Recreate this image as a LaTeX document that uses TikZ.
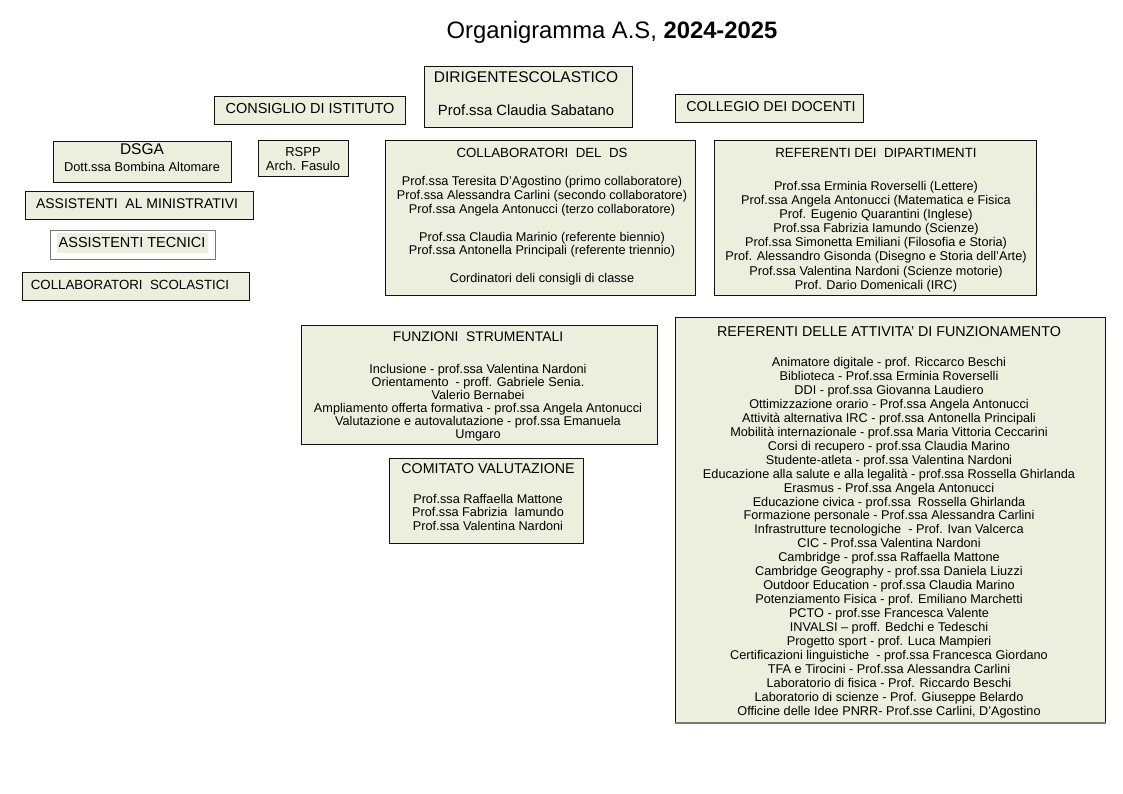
\documentclass[tikz,border=0pt]{standalone}
\usepackage{fontspec}
\setmainfont{Liberation Sans}
\usetikzlibrary{positioning}
\definecolor{orgfondo}{HTML}{ECEEDE}
\definecolor{orgbordo}{HTML}{111111}
\definecolor{orgombra}{HTML}{7A7A72}

\tikzset{
  ufficio/.style={draw=orgbordo, fill=orgfondo, line width=0.9pt, inner sep=0pt, anchor=north west},
  voce/.style={inner sep=0pt, text height=9.4pt, text depth=0pt},
  elenco/.style={font=\fontsize{12.7}{13.9}\selectfont, align=center, inner sep=0pt, anchor=north},
}

\begin{document}
\begin{tikzpicture}[x=1pt, y=-1pt]
    \fill[white] (0,0) rectangle (1123,793);
    \useasboundingbox (0,0) rectangle (1123,793);

    % Titolo
    \node[voce, font=\fontsize{23.8}{26}\selectfont, text height=17pt] (titolo) at (612,30)
        {Organigramma A.S, \textbf{2024-2025}};

    % Vertice
    \node[ufficio, minimum width=208pt, minimum height=61pt] (dirigente) at (424,66) {};
    \node[voce, font=\fontsize{15.5}{17}\selectfont] (dirigente-t) at (526,78) {DIRIGENTESCOLASTICO};
    \node[voce, font=\fontsize{14.8}{17}\selectfont] (dirigente-n) at (526,111) {Prof.ssa Claudia Sabatano};

    \node[ufficio, minimum width=191pt, minimum height=28pt] (consiglio) at (214,96) {};
    \node[voce, font=\fontsize{14.5}{16}\selectfont] (consiglio-t) at (310,109) {CONSIGLIO DI ISTITUTO};

    \node[ufficio, minimum width=188pt, minimum height=28pt] (collegio) at (675,94) {};
    \node[voce, font=\fontsize{14.3}{16}\selectfont] (collegio-t) at (771,107) {COLLEGIO DEI DOCENTI};

    % Area amministrativa
    \node[ufficio, minimum width=178pt, minimum height=41pt] (dsga) at (53,141) {};
    \node[voce, font=\fontsize{15.5}{17}\selectfont] (dsga-t) at (142,150) {DSGA};
    \node[voce, font=\fontsize{12.8}{14}\selectfont] (dsga-n) at (142,167) {Dott.ssa Bombina Altomare};

    \node[ufficio, minimum width=90pt, minimum height=36pt] (rspp) at (258,140) {};
    \node[voce, font=\fontsize{13}{14}\selectfont] (rspp-t) at (303,152) {RSPP};
    \node[voce, font=\fontsize{13}{14}\selectfont] (rspp-n) at (303,166) {Arch. Fasulo};

    \node[ufficio, minimum width=228pt, minimum height=28pt] (amministrativi) at (25,191) {};
    \node[voce, font=\fontsize{14}{16}\selectfont] (amministrativi-t) at (137,204) {ASSISTENTI\ \ AL MINISTRATIVI};

    \node[ufficio, fill=white, draw=orgombra, line width=0.6pt, minimum width=165pt, minimum height=29pt] (tecnici) at (50,230) {};
    \fill[orgfondo] (57,233) rectangle (208,253);
    \node[voce, font=\fontsize{14.5}{16}\selectfont] (tecnici-t) at (132,243) {ASSISTENTI TECNICI};

    \node[ufficio, minimum width=227pt, minimum height=28pt] (scolastici) at (22,272) {};
    \node[voce, font=\fontsize{13.3}{15}\selectfont] (scolastici-t) at (130,285) {COLLABORATORI\ \ SCOLASTICI};

    % Staff del DS
    \node[ufficio, minimum width=310pt, minimum height=155pt] (staff) at (385,140) {};
    \node[voce, font=\fontsize{13.3}{15}\selectfont] (staff-t) at (542,153) {COLLABORATORI\ \ DEL\ \ DS};
    \node[elenco, font=\fontsize{12.7}{13.8}\selectfont] (staff-e) at (542,176.5) {%
        Prof.ssa Teresita D'Agostino (primo collaboratore)\\
        Prof.ssa Alessandra Carlini (secondo collaboratore)\\
        Prof.ssa Angela Antonucci (terzo collaboratore)\\[13.8pt]
        Prof.ssa Claudia Marinio (referente biennio)\\
        Prof.ssa Antonella Principali (referente triennio)\\[13.8pt]
        Cordinatori deli consigli di classe};

    \node[ufficio, minimum width=322pt, minimum height=155pt] (dipartimenti) at (714,140) {};
    \node[voce, font=\fontsize{13.3}{15}\selectfont] (dipartimenti-t) at (876,153) {REFERENTI DEI\ \ DIPARTIMENTI};
    \node[elenco, font=\fontsize{12.7}{14.1}\selectfont] (dipartimenti-e) at (876,181) {%
        Prof.ssa Erminia Roverselli (Lettere)\\
        Prof.ssa Angela Antonucci (Matematica e Fisica\\
        Prof. Eugenio Quarantini (Inglese)\\
        Prof.ssa Fabrizia Iamundo (Scienze)\\
        Prof.ssa Simonetta Emiliani (Filosofia e Storia)\\
        Prof. Alessandro Gisonda (Disegno e Storia dell'Arte)\\
        Prof.ssa Valentina Nardoni (Scienze motorie)\\
        Prof. Dario Domenicali (IRC)};

    % Funzioni e comitato
    \node[ufficio, minimum width=356pt, minimum height=119pt] (funzioni) at (301,325) {};
    \node[voce, font=\fontsize{13.9}{15}\selectfont] (funzioni-t) at (478,337) {FUNZIONI\ \ STRUMENTALI};
    \node[elenco, font=\fontsize{12.7}{13}\selectfont] (funzioni-e) at (478,364) {%
        Inclusione - prof.ssa Valentina Nardoni\\
        Orientamento\ \ - proff. Gabriele Senia.\\
        Valerio Bernabei\\
        Ampliamento offerta formativa - prof.ssa Angela Antonucci\\
        Valutazione e autovalutazione - prof.ssa Emanuela\\
        Umgaro};

    \node[ufficio, minimum width=194pt, minimum height=85pt] (comitato) at (389,458) {};
    \node[voce, font=\fontsize{14.2}{16}\selectfont] (comitato-t) at (488,469) {COMITATO VALUTAZIONE};
    \node[elenco, font=\fontsize{12.7}{13.5}\selectfont] (comitato-e) at (488,494) {%
        Prof.ssa Raffaella Mattone\\
        Prof.ssa Fabrizia\ \ Iamundo\\
        Prof.ssa Valentina Nardoni};

    % Referenti attivita
    \node[ufficio, minimum width=430pt, minimum height=405pt] (attivita) at (675,317) {};
    \draw[orgombra, line width=2pt] (attivita.south west) -- (attivita.south east);
    \node[voce, font=\fontsize{14.3}{16}\selectfont] (attivita-t) at (889,332) {REFERENTI DELLE ATTIVITA' DI FUNZIONAMENTO};
    \node[elenco, font=\fontsize{12.7}{13.96}\selectfont] (attivita-e) at (889,357) {%
        Animatore digitale - prof. Riccarco Beschi\\
        Biblioteca - Prof.ssa Erminia Roverselli\\
        DDI - prof.ssa Giovanna Laudiero\\
        Ottimizzazione orario - Prof.ssa Angela Antonucci\\
        Attività alternativa IRC - prof.ssa Antonella Principali\\
        Mobilità internazionale - prof.ssa Maria Vittoria Ceccarini\\
        Corsi di recupero - prof.ssa Claudia Marino\\
        Studente-atleta - prof.ssa Valentina Nardoni\\
        Educazione alla salute e alla legalità - prof.ssa Rossella Ghirlanda\\
        Erasmus - Prof.ssa Angela Antonucci\\
        Educazione civica - prof.ssa\ \ Rossella Ghirlanda\\
        Formazione personale - Prof.ssa Alessandra Carlini\\
        Infrastrutture tecnologiche\ \ - Prof. Ivan Valcerca\\
        CIC - Prof.ssa Valentina Nardoni\\
        Cambridge - prof.ssa Raffaella Mattone\\
        Cambridge Geography - prof.ssa Daniela Liuzzi\\
        Outdoor Education - prof.ssa Claudia Marino\\
        Potenziamento Fisica - prof. Emiliano Marchetti\\
        PCTO - prof.sse Francesca Valente\\
        INVALSI -- proff. Bedchi e Tedeschi\\
        Progetto sport - prof. Luca Mampieri\\
        Certificazioni linguistiche\ \ - prof.ssa Francesca Giordano\\
        TFA e Tirocini - Prof.ssa Alessandra Carlini\\
        Laboratorio di fisica - Prof. Riccardo Beschi\\
        Laboratorio di scienze - Prof. Giuseppe Belardo\\
        Officine delle Idee PNRR- Prof.sse Carlini, D'Agostino};
\end{tikzpicture}
\end{document}
